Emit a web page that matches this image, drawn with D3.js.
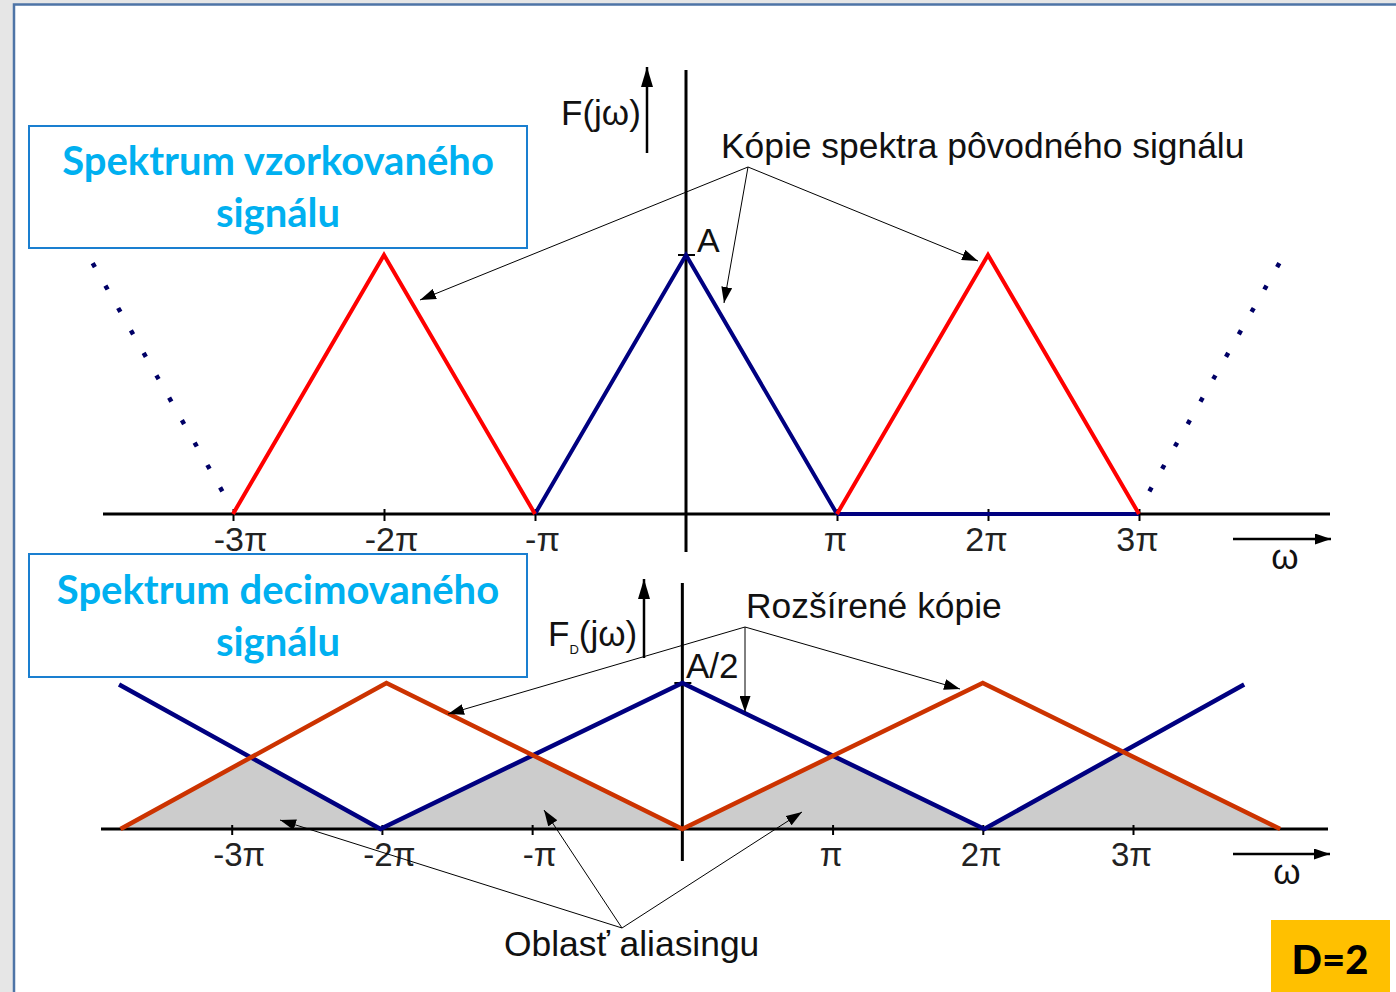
<!DOCTYPE html>
<html>
<head>
<meta charset="utf-8">
<script src="https://cdn.jsdelivr.net/npm/d3@7"></script>
<style>
  html, body { margin: 0; padding: 0; background: #e6e6e6; }
  svg { display: block; }
  .lbl { font-family: "Liberation Sans", Arial, sans-serif; fill: #111; }
  .tick text { font-family: "Liberation Sans", Arial, sans-serif; fill: #222; }
  .box-title { font-family: Lato, "Open Sans", sans-serif; font-weight: 700; fill: #00b0f0; }
</style>
</head>
<body>
<svg id="chart" width="1396" height="992"></svg>
<script>
// ---- data (ω in multiples of π, amplitude in multiples of A or A/2) ----
const tickValues = [-3, -2, -1, 1, 2, 3];
const tickLabels = ["-3π", "-2π", "-π", "π", "2π", "3π"];

// sampled-signal spectrum
const redLeft    = [[-3, 0], [-2, 1], [-1, 0]];
const blueCenter = [[-1, 0], [0, 1], [1, 0]];
const redRight   = [[1, 0], [2, 1], [3, 0]];
const blueBase   = [[1, 0], [3, 0]];
const dotsLeft   = [[-3.922, 0.961], [-3.078, 0.095]];
const dotsRight  = [[3.076, 0.095], [3.922, 0.961]];

// decimated-signal spectrum (D = 2)
const blueWide   = [[-3.75, 0.99], [-2.01, 0], [0, 1], [2.01, 0], [3.74, 0.99]];
const orangeWide = [[-3.74, 0], [-1.97, 1], [0, 0], [2.0, 1], [3.98, 0]];

const svg = d3.select("#chart");

// slide background
svg.append("rect").attr("x", 14).attr("y", 4.5).attr("width", 1400).attr("height", 1000)
  .attr("fill", "#fff").attr("stroke", "#4e74a6").attr("stroke-width", 2.5);

const defs = svg.append("defs");
function marker(id, w, h) {
  defs.append("marker").attr("id", id)
    .attr("viewBox", `0 0 ${w} ${h}`).attr("refX", w).attr("refY", h / 2)
    .attr("markerWidth", w).attr("markerHeight", h)
    .attr("markerUnits", "userSpaceOnUse").attr("orient", "auto")
    .append("path").attr("d", `M0,0L${w},${h / 2}L0,${h}Z`).attr("fill", "#000");
}
marker("arrSmall", 16, 11);
marker("arrBig", 20, 12);

// ---------- shared helpers ----------
function panel(cfg) {
  const x = d3.scaleLinear().domain([-3, 3]).range(cfg.xr);
  const y = d3.scaleLinear().domain([0, 1]).range(cfg.yr);
  const line = d3.line().x(d => x(d[0])).y(d => y(d[1]));
  const g = svg.append("g");
  return { x, y, line, g };
}

function drawAxes(p, cfg) {
  const g = p.g;
  // horizontal axis
  g.append("line").attr("x1", cfg.axisX[0]).attr("x2", cfg.axisX[1])
    .attr("y1", p.y(0)).attr("y2", p.y(0)).attr("stroke", "#000").attr("stroke-width", 3);
  // vertical axis
  g.append("line").attr("x1", p.x(0)).attr("x2", p.x(0))
    .attr("y1", cfg.axisY[0]).attr("y2", cfg.axisY[1]).attr("stroke", "#000").attr("stroke-width", 3);
  // ticks and labels
  const ax = d3.axisBottom(p.x).tickValues(tickValues)
    .tickFormat((d, i) => tickLabels[i]).tickSizeInner(cfg.tickLen).tickSizeOuter(0);
  const ag = g.append("g").attr("transform", `translate(0,${p.y(0) - cfg.tickUp})`).call(ax);
  ag.select(".domain").remove();
  ag.selectAll(".tick line").attr("stroke", "#000").attr("stroke-width", 2);
  ag.selectAll(".tick text")
    .attr("y", cfg.labelBase - (p.y(0) - cfg.tickUp)).attr("dy", 0)
    .attr("dx", (d, i) => tickLabels[i].startsWith("-") ? cfg.negShift : cfg.posShift)
    .style("font-size", cfg.labelSize + "px");
  // peak marker on vertical axis
  g.append("line").attr("x1", p.x(0) - 8).attr("x2", p.x(0) + 9)
    .attr("y1", p.y(1)).attr("y2", p.y(1)).attr("stroke", "#000").attr("stroke-width", 2);
  // ω arrow
  g.append("line").attr("x1", cfg.omegaArrow[0]).attr("x2", cfg.omegaArrow[1])
    .attr("y1", cfg.omegaArrow[2]).attr("y2", cfg.omegaArrow[2])
    .attr("stroke", "#000").attr("stroke-width", 2.5).attr("marker-end", "url(#arrSmall)");
  g.append("text").attr("class", "lbl").attr("x", cfg.omegaLabel[0]).attr("y", cfg.omegaLabel[1])
    .attr("text-anchor", "middle").style("font-size", "35px").text("ω");
}

function annot(fx, fy, tips) {
  tips.forEach(t => {
    svg.append("line").attr("x1", fx).attr("y1", fy).attr("x2", t[0]).attr("y2", t[1])
      .attr("stroke", "#000").attr("stroke-width", 1).attr("marker-end", "url(#arrSmall)");
  });
}

function titleBox(x0, y0, x1, y1, lines) {
  svg.append("rect").attr("x", x0).attr("y", y0).attr("width", x1 - x0).attr("height", y1 - y0)
    .attr("fill", "#fff").attr("stroke", "#1a7fd0").attr("stroke-width", 2);
  const cy = (y0 + y1) / 2;
  lines.forEach((t, i) => {
    svg.append("text").attr("class", "box-title").attr("x", (x0 + x1) / 2)
      .attr("y", cy - 12 + i * 52).attr("text-anchor", "middle")
      .style("font-size", "40px").text(t);
  });
}

// ---------- top panel: spectrum of the sampled signal ----------
const topCfg = {
  xr: [233, 1139], yr: [514, 255], axisX: [103, 1330], axisY: [70, 552],
  tickLen: 12, tickUp: 5, labelBase: 551, labelSize: 34, negShift: 7, posShift: -2,
  omegaArrow: [1233, 1331, 539], omegaLabel: [1285, 569]
};
const T = panel(topCfg);
drawAxes(T, topCfg);

const dotted = [dotsLeft, dotsRight];
dotted.forEach(seg => {
  const path = T.g.append("path").attr("d", T.line(seg)).attr("fill", "none")
    .attr("stroke", "#000066").attr("stroke-width", 4.5).attr("stroke-linecap", "square");
  const L = path.node().getTotalLength();
  path.attr("stroke-dasharray", `0.01 ${(L - 0.01 * 11) / 10}`);
});
T.g.append("path").attr("d", T.line(blueBase)).attr("fill", "none")
  .attr("stroke", "#000080").attr("stroke-width", 4);
T.g.append("path").attr("d", T.line(blueCenter)).attr("fill", "none")
  .attr("stroke", "#000080").attr("stroke-width", 4).attr("stroke-linejoin", "miter");
[redLeft, redRight].forEach(s => T.g.append("path").attr("d", T.line(s)).attr("fill", "none")
  .attr("stroke", "#ff0000").attr("stroke-width", 4).attr("stroke-linejoin", "miter"));

// ---------- bottom panel: spectrum of the decimated signal ----------
const botCfg = {
  xr: [231.7, 1133], yr: [829, 683], axisX: [101, 1328], axisY: [583, 861],
  tickLen: 10, tickUp: 4, labelBase: 866, labelSize: 33, negShift: 7, posShift: -2,
  omegaArrow: [1233, 1330, 854], omegaLabel: [1287, 884]
};
const B = panel(botCfg);

// aliasing area: region lying under both overlapping copies
// (beyond the ends of the blue copy only the orange one bounds it)
const bx = blueWide.map(d => [B.x(d[0]), B.y(d[1])]);
const yTop = B.y(1) - 40, yBot = B.y(0) + 10;
const clipPoly = [[0, yTop], [bx[0][0], yTop], ...bx,
  [bx[bx.length - 1][0], yTop], [1400, yTop], [1400, yBot], [0, yBot]];
defs.append("clipPath").attr("id", "underBlue")
  .append("path").attr("d", "M" + clipPoly.map(p => p.join(",")).join("L") + "Z");
const area = d3.area().x(d => B.x(d[0])).y0(B.y(0)).y1(d => B.y(d[1]));
B.g.append("path").attr("d", area(orangeWide)).attr("clip-path", "url(#underBlue)")
  .attr("fill", "#cccccc").attr("stroke", "#333").attr("stroke-width", 1.5);

drawAxes(B, botCfg);
B.g.append("path").attr("d", B.line(blueWide)).attr("fill", "none")
  .attr("stroke", "#000080").attr("stroke-width", 4.5);
B.g.append("path").attr("d", B.line(orangeWide)).attr("fill", "none")
  .attr("stroke", "#cc3300").attr("stroke-width", 4.5);

// ---------- axis captions ----------
svg.append("text").attr("class", "lbl").attr("x", 561).attr("y", 125)
  .style("font-size", "35px").text("F(jω)");
svg.append("line").attr("x1", 647).attr("x2", 647).attr("y1", 153).attr("y2", 67)
  .attr("stroke", "#000").attr("stroke-width", 2.5).attr("marker-end", "url(#arrBig)");

const fd = svg.append("text").attr("class", "lbl").attr("x", 548).attr("y", 646).style("font-size", "35px");
fd.append("tspan").text("F");
fd.append("tspan").attr("dy", 8).style("font-size", "13px").text("D");
fd.append("tspan").attr("dy", -8).text("(jω)");
svg.append("line").attr("x1", 644).attr("x2", 644).attr("y1", 658).attr("y2", 579)
  .attr("stroke", "#000").attr("stroke-width", 2.5).attr("marker-end", "url(#arrBig)");

svg.append("text").attr("class", "lbl").attr("x", 697).attr("y", 252).style("font-size", "34px").text("A");
svg.append("text").attr("class", "lbl").attr("x", 686).attr("y", 678).style("font-size", "35px").text("A/2");

// ---------- annotations ----------
svg.append("text").attr("class", "lbl").attr("x", 721).attr("y", 158).style("font-size", "35.4px")
  .text("Kópie spektra pôvodného signálu");
annot(748, 167, [[420, 300], [724, 303], [978, 261]]);

svg.append("text").attr("class", "lbl").attr("x", 746).attr("y", 618).style("font-size", "35.4px")
  .text("Rozšírené kópie");
annot(745, 627, [[448, 714], [745, 712], [960, 689]]);

svg.append("text").attr("class", "lbl").attr("x", 504).attr("y", 956).style("font-size", "35.4px")
  .text("Oblasť aliasingu");
annot(622, 928, [[280, 820], [544, 810], [802, 812]]);

// ---------- titles ----------
titleBox(29, 126, 527, 248, ["Spektrum vzorkovaného", "signálu"]);
titleBox(29, 554, 527, 677, ["Spektrum decimovaného", "signálu"]);

// decimation factor badge
svg.append("rect").attr("x", 1271).attr("y", 920).attr("width", 119).attr("height", 72).attr("fill", "#ffc000");
svg.append("text").attr("x", 1330).attr("y", 974).attr("text-anchor", "middle")
  .style("font-family", "Lato, sans-serif").style("font-weight", 900).style("font-size", "40px")
  .attr("fill", "#000").text("D=2");
</script>
</body>
</html>
